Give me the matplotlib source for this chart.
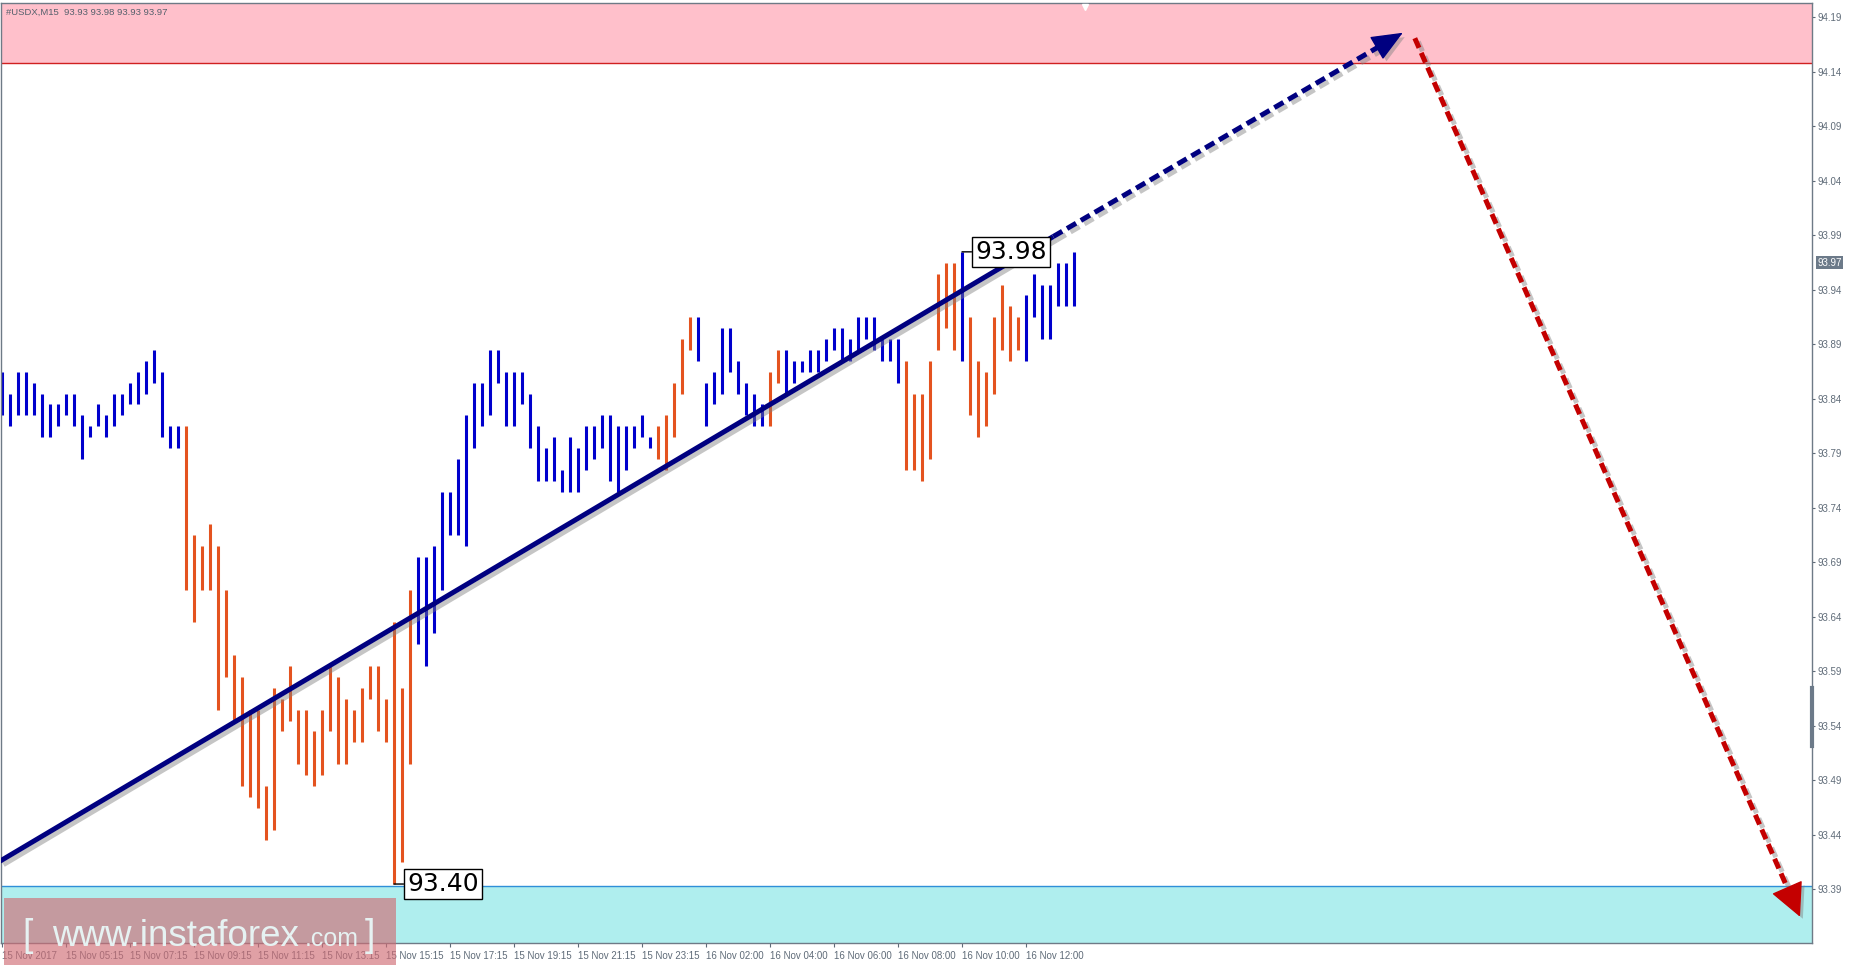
"""USDX M15 wave chart: bars, trend channel arrows and price zones."""

import math

import matplotlib

matplotlib.use("Agg")
import matplotlib.pyplot as plt
import matplotlib.patheffects as pe
from matplotlib.patches import Rectangle

plt.rcParams["font.family"] = ["Liberation Sans", "DejaVu Sans"]

# 15-minute bars, 15 Nov 03:15 onwards
HIGH = [
    93.87, 93.85, 93.87, 93.87, 93.86, 93.85, 93.84, 93.84, 93.85, 93.85,
    93.83, 93.82, 93.84, 93.83, 93.85, 93.85, 93.86, 93.87, 93.88, 93.89,
    93.87, 93.82, 93.82, 93.82, 93.72, 93.71, 93.73, 93.71, 93.67, 93.61,
    93.59, 93.56, 93.56, 93.49, 93.58, 93.57, 93.60, 93.56, 93.56, 93.54,
    93.56, 93.60, 93.59, 93.57, 93.56, 93.58, 93.60, 93.60, 93.57, 93.64,
    93.58, 93.67, 93.70, 93.70, 93.71, 93.76, 93.76, 93.79, 93.83, 93.86,
    93.86, 93.89, 93.89, 93.87, 93.87, 93.87, 93.85, 93.82, 93.80, 93.81,
    93.78, 93.81, 93.80, 93.82, 93.82, 93.83, 93.83, 93.82, 93.82, 93.82,
    93.83, 93.81, 93.82, 93.83, 93.86, 93.90, 93.92, 93.92, 93.86, 93.87,
    93.91, 93.91, 93.88, 93.86, 93.85, 93.84, 93.87, 93.89, 93.89, 93.88,
    93.88, 93.89, 93.89, 93.90, 93.91, 93.91, 93.90, 93.92, 93.92, 93.92,
    93.90, 93.90, 93.90, 93.88, 93.85, 93.85, 93.88, 93.96, 93.97, 93.97,
    93.98, 93.92, 93.88, 93.87, 93.92, 93.95, 93.93, 93.92, 93.94, 93.96,
    93.95, 93.95, 93.97, 93.97, 93.98,
]
LOW = [
    93.83, 93.82, 93.83, 93.83, 93.83, 93.81, 93.81, 93.82, 93.83, 93.82,
    93.79, 93.81, 93.82, 93.81, 93.82, 93.83, 93.84, 93.84, 93.85, 93.86,
    93.81, 93.80, 93.80, 93.67, 93.64, 93.67, 93.67, 93.56, 93.59, 93.55,
    93.49, 93.48, 93.47, 93.44, 93.45, 93.54, 93.55, 93.51, 93.50, 93.49,
    93.50, 93.54, 93.51, 93.51, 93.53, 93.53, 93.57, 93.54, 93.53, 93.40,
    93.42, 93.51, 93.62, 93.60, 93.63, 93.67, 93.72, 93.72, 93.71, 93.80,
    93.82, 93.83, 93.86, 93.82, 93.82, 93.84, 93.80, 93.77, 93.77, 93.77,
    93.76, 93.76, 93.76, 93.78, 93.79, 93.80, 93.77, 93.76, 93.78, 93.80,
    93.81, 93.80, 93.79, 93.78, 93.81, 93.85, 93.89, 93.88, 93.82, 93.84,
    93.85, 93.87, 93.85, 93.83, 93.82, 93.82, 93.82, 93.86, 93.85, 93.86,
    93.87, 93.87, 93.87, 93.88, 93.89, 93.88, 93.88, 93.89, 93.90, 93.89,
    93.88, 93.88, 93.86, 93.78, 93.78, 93.77, 93.79, 93.89, 93.91, 93.89,
    93.88, 93.83, 93.81, 93.82, 93.85, 93.89, 93.88, 93.89, 93.88, 93.92,
    93.90, 93.90, 93.93, 93.93, 93.93,
]
# wave colouring: (direction, number of bars)
SEGMENTS = [
    ("up", 23), ("down", 29), ("up", 30), ("down", 5), ("up", 9), ("down", 2),
    ("up", 15), ("down", 7), ("up", 1), ("down", 7), ("up", 7),
]

TIME_LABELS = [
    "15 Nov 2017", "15 Nov 05:15", "15 Nov 07:15", "15 Nov 09:15", "15 Nov 11:15",
    "15 Nov 13:15", "15 Nov 15:15", "15 Nov 17:15", "15 Nov 19:15", "15 Nov 21:15",
    "15 Nov 23:15", "16 Nov 02:00", "16 Nov 04:00", "16 Nov 06:00", "16 Nov 08:00",
    "16 Nov 10:00", "16 Nov 12:00",
]
PRICE_LABELS = [
    "93.39", "93.44", "93.49", "93.54", "93.59", "93.64", "93.69", "93.74", "93.79",
    "93.84", "93.89", "93.94", "93.99", "94.04", "94.09", "94.14", "94.19",
]
PRICE_TICK0 = 93.3954
PRICE_STEP = 0.05

# wave markup (bar index, price)
TREND_X = [-0.25, 131.4, 175.1]
TREND_Y = [93.421, 93.994, 94.181]
FORECAST_X = [176.6, 224.75]
FORECAST_Y = [94.176, 93.370]

RESIST_LOW = 94.153
SUPPORT_HIGH = 93.398
LAST_PRICE = 93.97
HEADER = "#USDX,M15  93.93 93.98 93.93 93.97"

BLUE = "#0000cd"
ORANGE = "#e4531f"
NAVY = "#000080"
RED = "#c40000"
GREY = "#5f6b78"

W, H = 1854, 967
fig = plt.figure(figsize=(W / 100, H / 100), dpi=100, facecolor="white")
ax = fig.add_axes([1 / W, 24 / H, 1811 / W, 940 / H])
ax.set_facecolor("white")

ax.set_xlim(-0.125, 226.25)
ax.set_ylim(93.3459, 94.2083)

# zones
ax.axhspan(RESIST_LOW, 95, color="#ffc0cb", zorder=0, lw=0)
ax.axhline(RESIST_LOW, color="#d02020", lw=1, zorder=1)
ax.axhspan(93.0, SUPPORT_HIGH, color="#afeeee", zorder=0, lw=0)
ax.axhline(SUPPORT_HIGH, color="#2f8fd8", lw=1, zorder=1)

# bars
colors = []
for direction, n in SEGMENTS:
    colors += [BLUE if direction == "up" else ORANGE] * n
idx = list(range(len(HIGH)))
ax.vlines(idx, LOW, HIGH, colors=colors, lw=2.2, zorder=2)

shadow = [pe.SimpleLineShadow(offset=(2.5, -2.5), shadow_color="#808080", alpha=0.45), pe.Normal()]

# trend line: solid to the last high, dashed projection
ax.plot(TREND_X[:2], TREND_Y[:2], color=NAVY, lw=3.6, solid_capstyle="butt",
        zorder=3, path_effects=shadow)


def dashed_arrow(xs, ys, color, head_w, head_px=28):
    p0 = ax.transData.transform((xs[0], ys[0]))
    p1 = ax.transData.transform((xs[1], ys[1]))
    length = math.hypot(p1[0] - p0[0], p1[1] - p0[1])
    f_head = 1 - head_px / length
    f_line = 1 - (head_px - 3) / length
    xe = xs[0] + (xs[1] - xs[0]) * f_line
    ye = ys[0] + (ys[1] - ys[0]) * f_line
    ax.plot([xs[0], xe], [ys[0], ye], color=color, lw=3.6, ls=(0, (2.1, 1.1)),
            dash_capstyle="butt", zorder=3, path_effects=shadow)
    xh = xs[0] + (xs[1] - xs[0]) * f_head
    yh = ys[0] + (ys[1] - ys[0]) * f_head
    ann = ax.annotate(
        "", xy=(xs[1], ys[1]), xytext=(xh, yh),
        arrowprops=dict(arrowstyle=f"-|>,head_length=1.0,head_width={head_w}",
                        mutation_scale=head_px * 0.72, color=color, lw=1,
                        shrinkA=0, shrinkB=0),
        zorder=3, annotation_clip=False,
    )
    ann.arrow_patch.set_path_effects(
        [pe.SimplePatchShadow(offset=(2.5, -2.5), shadow_rgbFace="#808080", alpha=0.45), pe.Normal()]
    )


dashed_arrow(TREND_X[1:], TREND_Y[1:], NAVY, 0.42)
dashed_arrow(FORECAST_X, FORECAST_Y, RED, 0.5, head_px=30)

# extreme price labels
for bar, price in [(120, HIGH[120]), (49, LOW[49])]:
    ax.annotate(
        f"{price:.2f}", xy=(bar, price), xytext=(9.4, 0), textcoords="offset points",
        ha="left", va="center", fontsize=18, family="DejaVu Sans", color="black",
        bbox=dict(boxstyle="square,pad=0.12", fc="white", ec="black", lw=1),
        arrowprops=dict(arrowstyle="-", color="black", lw=1, shrinkA=0, shrinkB=0),
        zorder=5,
    )

# axes styling
for s in ax.spines.values():
    s.set_color("#6e7a86")
    s.set_linewidth(1)

ax.yaxis.tick_right()
ax.set_yticks([PRICE_TICK0 + PRICE_STEP * k for k in range(len(PRICE_LABELS))], PRICE_LABELS)
ax.set_xticks([8 * k for k in range(len(TIME_LABELS))], TIME_LABELS)
for lab in ax.get_xticklabels():
    lab.set_horizontalalignment("left")
ax.tick_params(axis="y", length=2.5, pad=1.5, labelsize=7, colors=GREY)
ax.tick_params(axis="x", length=3, pad=3, labelsize=7, colors=GREY)

# current price tag and scroll marker on the price scale
ax.annotate(
    f"{LAST_PRICE:.2f}", xy=(1, LAST_PRICE), xycoords=ax.get_yaxis_transform(),
    xytext=(4, 0), textcoords="offset points", ha="left", va="center",
    fontsize=7, color="white", annotation_clip=False,
    bbox=dict(boxstyle="square,pad=0.15", fc="#6c7a89", ec="none"), zorder=6,
)
ax.plot([1, 1], [93.527, 93.58], transform=ax.get_yaxis_transform(), color="#6c7a89",
        lw=3, clip_on=False, zorder=6)
ax.plot([len(HIGH) + 0.4], [0.996], transform=ax.get_xaxis_transform(), marker="v",
        color="white", markersize=5, clip_on=False, zorder=6)

fig.text(6 / W, 1 - 12 / H, HEADER, fontsize=6.8, color="#55606c", va="center", zorder=6)

# watermark
fig.add_artist(Rectangle((4 / W, 2 / H), 392 / W, 67 / H, transform=fig.transFigure,
                         facecolor=(208 / 255, 109 / 255, 117 / 255), alpha=0.65,
                         edgecolor="none", zorder=10))
wm = dict(color="#e6f2f2", va="baseline", zorder=11)
fig.text(22 / W, (H - 946) / H, "[", fontsize=27, **wm)
fig.text(52 / W, (H - 946) / H, "www.instaforex", fontsize=26.5, **wm)
fig.text(305 / W, (H - 946) / H, ".com", fontsize=18, **wm)
fig.text(365 / W, (H - 946) / H, "]", fontsize=27, **wm)

fig.savefig("out.png", dpi=100, facecolor="white")
